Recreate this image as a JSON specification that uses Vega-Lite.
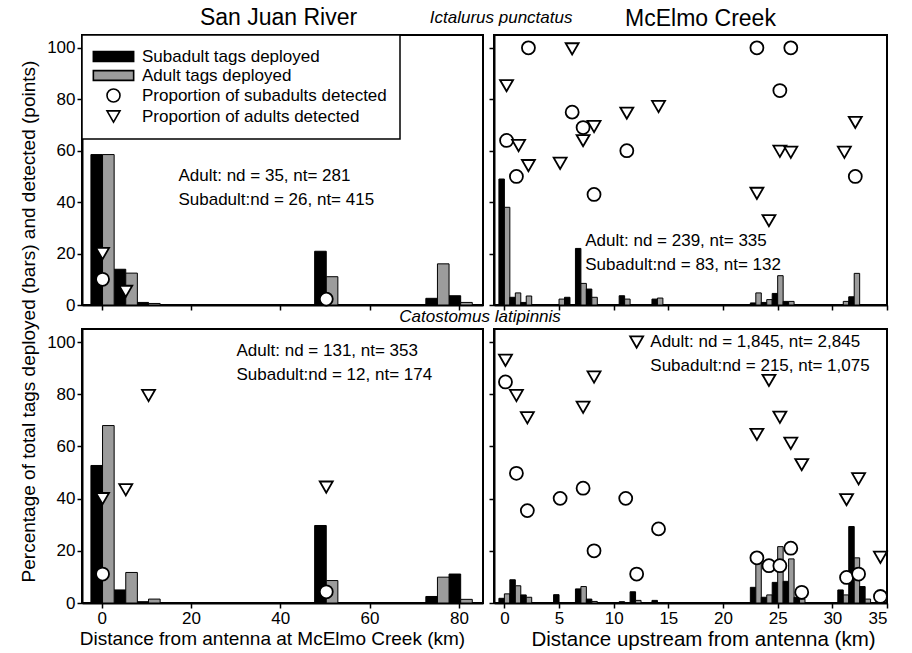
{
  "$schema": "https://vega.github.io/schema/vega-lite/v6.json",
  "padding": {"left": 18, "top": 6, "right": 5, "bottom": 0},
  "background": "white",
  "title": {"text": "Ictalurus punctatus", "orient": "top", "anchor": "middle", "fontSize": 17, "fontStyle": "italic", "fontWeight": "normal", "color": "black", "offset": -21, "dx": 46},
  "datasets": {
    "bars": [
      {"panel": "SJ-I", "series": "Subadult tags deployed", "start": -2.4, "end": 0.2, "pct": 58.5},
      {"panel": "SJ-I", "series": "Subadult tags deployed", "start": 2.8, "end": 5.4, "pct": 13.9},
      {"panel": "SJ-I", "series": "Subadult tags deployed", "start": 7.9, "end": 10.5, "pct": 1.0},
      {"panel": "SJ-I", "series": "Subadult tags deployed", "start": 47.7, "end": 50.3, "pct": 20.9},
      {"panel": "SJ-I", "series": "Subadult tags deployed", "start": 72.6, "end": 75.2, "pct": 2.6},
      {"panel": "SJ-I", "series": "Subadult tags deployed", "start": 77.8, "end": 80.4, "pct": 3.6},
      {"panel": "SJ-I", "series": "Adult tags deployed", "start": 0.2, "end": 2.8, "pct": 58.5},
      {"panel": "SJ-I", "series": "Adult tags deployed", "start": 5.4, "end": 8.0, "pct": 12.4},
      {"panel": "SJ-I", "series": "Adult tags deployed", "start": 10.5, "end": 13.1, "pct": 0.6},
      {"panel": "SJ-I", "series": "Adult tags deployed", "start": 50.3, "end": 52.9, "pct": 11.0},
      {"panel": "SJ-I", "series": "Adult tags deployed", "start": 75.2, "end": 77.8, "pct": 16.0},
      {"panel": "SJ-I", "series": "Adult tags deployed", "start": 80.4, "end": 83.0, "pct": 1.0},

      {"panel": "SJ-C", "series": "Subadult tags deployed", "start": -2.4, "end": 0.2, "pct": 52.7},
      {"panel": "SJ-C", "series": "Subadult tags deployed", "start": 2.8, "end": 5.4, "pct": 5.0},
      {"panel": "SJ-C", "series": "Subadult tags deployed", "start": 7.9, "end": 10.5, "pct": 0.5},
      {"panel": "SJ-C", "series": "Subadult tags deployed", "start": 47.7, "end": 50.3, "pct": 29.7},
      {"panel": "SJ-C", "series": "Subadult tags deployed", "start": 72.6, "end": 75.2, "pct": 2.5},
      {"panel": "SJ-C", "series": "Subadult tags deployed", "start": 77.8, "end": 80.4, "pct": 11.1},
      {"panel": "SJ-C", "series": "Adult tags deployed", "start": 0.2, "end": 2.8, "pct": 68.0},
      {"panel": "SJ-C", "series": "Adult tags deployed", "start": 5.4, "end": 8.0, "pct": 11.7},
      {"panel": "SJ-C", "series": "Adult tags deployed", "start": 10.5, "end": 13.1, "pct": 1.5},
      {"panel": "SJ-C", "series": "Adult tags deployed", "start": 50.3, "end": 52.9, "pct": 8.6},
      {"panel": "SJ-C", "series": "Adult tags deployed", "start": 75.2, "end": 77.8, "pct": 9.9},
      {"panel": "SJ-C", "series": "Adult tags deployed", "start": 80.4, "end": 83.0, "pct": 1.4},

      {"panel": "MC-I", "series": "Subadult tags deployed", "start": -0.5, "end": 0, "pct": 49},
      {"panel": "MC-I", "series": "Adult tags deployed", "start": 0, "end": 0.5, "pct": 38},
      {"panel": "MC-I", "series": "Subadult tags deployed", "start": 0.5, "end": 1, "pct": 3},
      {"panel": "MC-I", "series": "Adult tags deployed", "start": 1, "end": 1.5, "pct": 4.7},
      {"panel": "MC-I", "series": "Subadult tags deployed", "start": 1.5, "end": 2, "pct": 1},
      {"panel": "MC-I", "series": "Adult tags deployed", "start": 2, "end": 2.5, "pct": 3.5},
      {"panel": "MC-I", "series": "Adult tags deployed", "start": 5, "end": 5.5, "pct": 2.3},
      {"panel": "MC-I", "series": "Subadult tags deployed", "start": 5.5, "end": 6, "pct": 3},
      {"panel": "MC-I", "series": "Subadult tags deployed", "start": 6.5, "end": 7, "pct": 22},
      {"panel": "MC-I", "series": "Adult tags deployed", "start": 7, "end": 7.5, "pct": 8.4},
      {"panel": "MC-I", "series": "Subadult tags deployed", "start": 7.5, "end": 8, "pct": 6.2},
      {"panel": "MC-I", "series": "Adult tags deployed", "start": 8, "end": 8.5, "pct": 3},
      {"panel": "MC-I", "series": "Subadult tags deployed", "start": 10.5, "end": 11, "pct": 3.6},
      {"panel": "MC-I", "series": "Adult tags deployed", "start": 11, "end": 11.5, "pct": 2.3},
      {"panel": "MC-I", "series": "Subadult tags deployed", "start": 13.5, "end": 14, "pct": 2.3},
      {"panel": "MC-I", "series": "Adult tags deployed", "start": 14, "end": 14.5, "pct": 2.7},
      {"panel": "MC-I", "series": "Subadult tags deployed", "start": 22.5, "end": 23, "pct": 0.8},
      {"panel": "MC-I", "series": "Adult tags deployed", "start": 23, "end": 23.5, "pct": 4.7},
      {"panel": "MC-I", "series": "Subadult tags deployed", "start": 23.5, "end": 24, "pct": 1.0},
      {"panel": "MC-I", "series": "Adult tags deployed", "start": 24, "end": 24.5, "pct": 2.1},
      {"panel": "MC-I", "series": "Subadult tags deployed", "start": 24.5, "end": 25, "pct": 4.5},
      {"panel": "MC-I", "series": "Adult tags deployed", "start": 25, "end": 25.5, "pct": 11.4},
      {"panel": "MC-I", "series": "Subadult tags deployed", "start": 25.5, "end": 26, "pct": 1.4},
      {"panel": "MC-I", "series": "Adult tags deployed", "start": 26, "end": 26.5, "pct": 1.4},
      {"panel": "MC-I", "series": "Adult tags deployed", "start": 31, "end": 31.5, "pct": 1.4},
      {"panel": "MC-I", "series": "Subadult tags deployed", "start": 31.5, "end": 32, "pct": 3.2},
      {"panel": "MC-I", "series": "Adult tags deployed", "start": 32, "end": 32.5, "pct": 12.3},

      {"panel": "MC-C", "series": "Subadult tags deployed", "start": -0.5, "end": 0, "pct": 1.8},
      {"panel": "MC-C", "series": "Adult tags deployed", "start": 0, "end": 0.5, "pct": 3.5},
      {"panel": "MC-C", "series": "Subadult tags deployed", "start": 0.5, "end": 1, "pct": 8.9},
      {"panel": "MC-C", "series": "Adult tags deployed", "start": 1, "end": 1.5, "pct": 6.6},
      {"panel": "MC-C", "series": "Subadult tags deployed", "start": 1.5, "end": 2, "pct": 3.1},
      {"panel": "MC-C", "series": "Adult tags deployed", "start": 2, "end": 2.5, "pct": 2.2},
      {"panel": "MC-C", "series": "Subadult tags deployed", "start": 4.5, "end": 5, "pct": 3.2},
      {"panel": "MC-C", "series": "Subadult tags deployed", "start": 6.5, "end": 7, "pct": 5.4},
      {"panel": "MC-C", "series": "Adult tags deployed", "start": 7, "end": 7.5, "pct": 6.3},
      {"panel": "MC-C", "series": "Subadult tags deployed", "start": 7.5, "end": 8, "pct": 1.5},
      {"panel": "MC-C", "series": "Adult tags deployed", "start": 8, "end": 8.5, "pct": 0.6},
      {"panel": "MC-C", "series": "Subadult tags deployed", "start": 10.5, "end": 11, "pct": 0.5},
      {"panel": "MC-C", "series": "Subadult tags deployed", "start": 11.5, "end": 12, "pct": 4.3},
      {"panel": "MC-C", "series": "Adult tags deployed", "start": 12, "end": 12.5, "pct": 1.0},
      {"panel": "MC-C", "series": "Subadult tags deployed", "start": 13.5, "end": 14, "pct": 1.0},
      {"panel": "MC-C", "series": "Subadult tags deployed", "start": 22.5, "end": 23, "pct": 6.0},
      {"panel": "MC-C", "series": "Adult tags deployed", "start": 23, "end": 23.5, "pct": 17.0},
      {"panel": "MC-C", "series": "Subadult tags deployed", "start": 23.5, "end": 24, "pct": 2.2},
      {"panel": "MC-C", "series": "Adult tags deployed", "start": 24, "end": 24.5, "pct": 3.1},
      {"panel": "MC-C", "series": "Subadult tags deployed", "start": 24.5, "end": 25, "pct": 7.9},
      {"panel": "MC-C", "series": "Adult tags deployed", "start": 25, "end": 25.5, "pct": 21.6},
      {"panel": "MC-C", "series": "Subadult tags deployed", "start": 25.5, "end": 26, "pct": 8.3},
      {"panel": "MC-C", "series": "Adult tags deployed", "start": 26, "end": 26.5, "pct": 16.9},
      {"panel": "MC-C", "series": "Subadult tags deployed", "start": 26.5, "end": 27, "pct": 2.2},
      {"panel": "MC-C", "series": "Adult tags deployed", "start": 27, "end": 27.5, "pct": 1.5},
      {"panel": "MC-C", "series": "Subadult tags deployed", "start": 30.5, "end": 31, "pct": 5.0},
      {"panel": "MC-C", "series": "Adult tags deployed", "start": 31, "end": 31.5, "pct": 3.1},
      {"panel": "MC-C", "series": "Subadult tags deployed", "start": 31.5, "end": 32, "pct": 29.3},
      {"panel": "MC-C", "series": "Adult tags deployed", "start": 32, "end": 32.5, "pct": 17.3},
      {"panel": "MC-C", "series": "Subadult tags deployed", "start": 32.5, "end": 33, "pct": 6.3},
      {"panel": "MC-C", "series": "Adult tags deployed", "start": 33, "end": 33.5, "pct": 1.5}
    ],
    "points": [
      {"panel": "SJ-I", "series": "Proportion of adults detected", "km": 0.2, "pct": 20},
      {"panel": "SJ-I", "series": "Proportion of adults detected", "km": 5.4, "pct": 5.3},
      {"panel": "SJ-I", "series": "Proportion of subadults detected", "km": 0.2, "pct": 10},
      {"panel": "SJ-I", "series": "Proportion of subadults detected", "km": 50.3, "pct": 2.3},

      {"panel": "SJ-C", "series": "Proportion of adults detected", "km": 0.2, "pct": 40},
      {"panel": "SJ-C", "series": "Proportion of adults detected", "km": 5.4, "pct": 43.4},
      {"panel": "SJ-C", "series": "Proportion of adults detected", "km": 10.5, "pct": 79.5},
      {"panel": "SJ-C", "series": "Proportion of adults detected", "km": 50.3, "pct": 44.4},
      {"panel": "SJ-C", "series": "Proportion of subadults detected", "km": 0.2, "pct": 11.1},
      {"panel": "SJ-C", "series": "Proportion of subadults detected", "km": 50.3, "pct": 4.3},

      {"panel": "MC-I", "series": "Proportion of subadults detected", "km": 0.2, "pct": 64},
      {"panel": "MC-I", "series": "Proportion of subadults detected", "km": 1.1, "pct": 50},
      {"panel": "MC-I", "series": "Proportion of subadults detected", "km": 2.2, "pct": 100},
      {"panel": "MC-I", "series": "Proportion of subadults detected", "km": 6.2, "pct": 75},
      {"panel": "MC-I", "series": "Proportion of subadults detected", "km": 7.2, "pct": 69},
      {"panel": "MC-I", "series": "Proportion of subadults detected", "km": 8.2, "pct": 43},
      {"panel": "MC-I", "series": "Proportion of subadults detected", "km": 11.2, "pct": 60},
      {"panel": "MC-I", "series": "Proportion of subadults detected", "km": 23.1, "pct": 100},
      {"panel": "MC-I", "series": "Proportion of subadults detected", "km": 25.2, "pct": 83.4},
      {"panel": "MC-I", "series": "Proportion of subadults detected", "km": 26.2, "pct": 100},
      {"panel": "MC-I", "series": "Proportion of subadults detected", "km": 32.1, "pct": 50},
      {"panel": "MC-I", "series": "Proportion of adults detected", "km": 0.2, "pct": 85.3},
      {"panel": "MC-I", "series": "Proportion of adults detected", "km": 1.3, "pct": 62},
      {"panel": "MC-I", "series": "Proportion of adults detected", "km": 2.2, "pct": 54.2},
      {"panel": "MC-I", "series": "Proportion of adults detected", "km": 5.1, "pct": 55.1},
      {"panel": "MC-I", "series": "Proportion of adults detected", "km": 6.2, "pct": 99.6},
      {"panel": "MC-I", "series": "Proportion of adults detected", "km": 7.2, "pct": 63.9},
      {"panel": "MC-I", "series": "Proportion of adults detected", "km": 8.2, "pct": 69.4},
      {"panel": "MC-I", "series": "Proportion of adults detected", "km": 11.2, "pct": 74.6},
      {"panel": "MC-I", "series": "Proportion of adults detected", "km": 14.1, "pct": 77.2},
      {"panel": "MC-I", "series": "Proportion of adults detected", "km": 23.1, "pct": 43.4},
      {"panel": "MC-I", "series": "Proportion of adults detected", "km": 24.2, "pct": 32.8},
      {"panel": "MC-I", "series": "Proportion of adults detected", "km": 25.2, "pct": 59.8},
      {"panel": "MC-I", "series": "Proportion of adults detected", "km": 26.2, "pct": 59.4},
      {"panel": "MC-I", "series": "Proportion of adults detected", "km": 31.1, "pct": 59.4},
      {"panel": "MC-I", "series": "Proportion of adults detected", "km": 32.1, "pct": 71},

      {"panel": "MC-C", "series": "Proportion of adults detected", "km": 0.1, "pct": 93},
      {"panel": "MC-C", "series": "Proportion of adults detected", "km": 1.1, "pct": 79.5},
      {"panel": "MC-C", "series": "Proportion of adults detected", "km": 2.1, "pct": 71},
      {"panel": "MC-C", "series": "Proportion of adults detected", "km": 7.2, "pct": 75},
      {"panel": "MC-C", "series": "Proportion of adults detected", "km": 8.2, "pct": 86.6},
      {"panel": "MC-C", "series": "Proportion of adults detected", "km": 12.1, "pct": 100},
      {"panel": "MC-C", "series": "Proportion of adults detected", "km": 23.1, "pct": 64.6},
      {"panel": "MC-C", "series": "Proportion of adults detected", "km": 24.2, "pct": 85.3},
      {"panel": "MC-C", "series": "Proportion of adults detected", "km": 25.2, "pct": 71.2},
      {"panel": "MC-C", "series": "Proportion of adults detected", "km": 26.2, "pct": 61.2},
      {"panel": "MC-C", "series": "Proportion of adults detected", "km": 27.2, "pct": 53},
      {"panel": "MC-C", "series": "Proportion of adults detected", "km": 31.3, "pct": 39.6},
      {"panel": "MC-C", "series": "Proportion of adults detected", "km": 32.4, "pct": 47.6},
      {"panel": "MC-C", "series": "Proportion of adults detected", "km": 34.4, "pct": 17.5},
      {"panel": "MC-C", "series": "Proportion of subadults detected", "km": 0.1, "pct": 84.7},
      {"panel": "MC-C", "series": "Proportion of subadults detected", "km": 1.1, "pct": 49.7},
      {"panel": "MC-C", "series": "Proportion of subadults detected", "km": 2.1, "pct": 35.4},
      {"panel": "MC-C", "series": "Proportion of subadults detected", "km": 5.1, "pct": 40.1},
      {"panel": "MC-C", "series": "Proportion of subadults detected", "km": 7.2, "pct": 44},
      {"panel": "MC-C", "series": "Proportion of subadults detected", "km": 8.2, "pct": 20},
      {"panel": "MC-C", "series": "Proportion of subadults detected", "km": 11.1, "pct": 40.1},
      {"panel": "MC-C", "series": "Proportion of subadults detected", "km": 12.1, "pct": 11.1},
      {"panel": "MC-C", "series": "Proportion of subadults detected", "km": 14.1, "pct": 28.4},
      {"panel": "MC-C", "series": "Proportion of subadults detected", "km": 23.1, "pct": 17.3},
      {"panel": "MC-C", "series": "Proportion of subadults detected", "km": 24.2, "pct": 14.3},
      {"panel": "MC-C", "series": "Proportion of subadults detected", "km": 25.2, "pct": 14.3},
      {"panel": "MC-C", "series": "Proportion of subadults detected", "km": 26.2, "pct": 21},
      {"panel": "MC-C", "series": "Proportion of subadults detected", "km": 27.2, "pct": 4.1},
      {"panel": "MC-C", "series": "Proportion of subadults detected", "km": 31.3, "pct": 9.8},
      {"panel": "MC-C", "series": "Proportion of subadults detected", "km": 32.4, "pct": 11.1},
      {"panel": "MC-C", "series": "Proportion of subadults detected", "km": 34.4, "pct": 2.5}
    ]
  },
  "columns": 2,
  "spacing": {"row": 24, "column": 11},
  "bounds": "flush",
  "align": "each",
  "resolve": {
    "scale": {"x": "independent", "y": "independent", "fill": "independent", "shape": "independent"},
    "legend": {"fill": "independent", "shape": "independent"}
  },
  "concat": [
    {
      "width": 401, "height": 270,
      "title": {"text": "San Juan River", "fontSize": 23, "fontWeight": "normal", "offset": 4, "anchor": "middle", "dx": -4, "color": "black"},
      "layer": [
        {
          "data": {"name": "bars"},
          "transform": [{"filter": "datum.panel === 'SJ-I'"}],
          "mark": {"type": "bar", "stroke": "black", "strokeWidth": 1},
          "encoding": {
            "x": {"field": "start", "type": "quantitative", "scale": {"domain": [-4.4, 85.4], "nice": false, "zero": false}, "axis": {"values": [0, 20, 40, 60, 80], "labels": false, "title": null}},
            "x2": {"field": "end"},
            "y": {"field": "pct", "type": "quantitative", "scale": {"domain": [0, 105], "nice": false}, "axis": {"values": [0, 20, 40, 60, 80, 100], "title": null}},
            "y2": {"datum": 0},
            "fill": {"field": "series", "type": "nominal",
              "scale": {"domain": ["Subadult tags deployed", "Adult tags deployed", "Proportion of subadults detected", "Proportion of adults detected"], "range": ["black", "#9c9c9c", "white", "white"]},
              "legend": {"title": null, "orient": "top-left", "offset": 0, "padding": 13, "strokeColor": "black", "fillColor": "white", "labelFontSize": 17, "labelColor": "black", "symbolSize": 169, "rowPadding": 1, "symbolStrokeColor": "black", "symbolStrokeWidth": 1.6, "symbolOffset": 10, "labelOffset": 20, "labelLimit": 400, "encode": {"legend": {"update": {"strokeWidth": {"value": 1.5}}}}}}
          }
        },
        {
          "data": {"name": "points"},
          "transform": [{"filter": "datum.panel === 'SJ-I'"}],
          "mark": {"type": "point", "filled": true, "size": 169, "stroke": "black", "strokeWidth": 1.8, "opacity": 1},
          "encoding": {
            "x": {"field": "km", "type": "quantitative"},
            "y": {"field": "pct", "type": "quantitative"},
            "fill": {"field": "series", "type": "nominal",
              "scale": {"domain": ["Subadult tags deployed", "Adult tags deployed", "Proportion of subadults detected", "Proportion of adults detected"], "range": ["black", "#9c9c9c", "white", "white"]},
              "legend": {"title": null, "orient": "top-left", "offset": 0, "padding": 13, "strokeColor": "black", "fillColor": "white", "labelFontSize": 17, "labelColor": "black", "symbolSize": 169, "rowPadding": 1, "symbolStrokeColor": "black", "symbolStrokeWidth": 1.6, "symbolOffset": 10, "labelOffset": 20, "labelLimit": 400, "encode": {"legend": {"update": {"strokeWidth": {"value": 1.5}}}}}},
            "shape": {"field": "series", "type": "nominal",
              "scale": {"domain": ["Subadult tags deployed", "Adult tags deployed", "Proportion of subadults detected", "Proportion of adults detected"], "range": ["M-3.1,-0.75H3.1V0.75H-3.1Z", "M-3.1,-0.75H3.1V0.75H-3.1Z", "circle", "triangle-down"]},
              "legend": {"title": null, "orient": "top-left", "offset": 0, "padding": 13, "strokeColor": "black", "fillColor": "white", "labelFontSize": 17, "labelColor": "black", "symbolSize": 169, "rowPadding": 1, "symbolStrokeColor": "black", "symbolStrokeWidth": 1.6, "symbolOffset": 10, "labelOffset": 20, "labelLimit": 400, "encode": {"legend": {"update": {"strokeWidth": {"value": 1.5}}}}}}
          }
        },
        {
          "data": {"values": [{}]},
          "mark": {"type": "text", "text": ["Adult: nd = 35, nt= 281", "Subadult:nd = 26, nt= 415"], "align": "left", "baseline": "middle", "fontSize": 17, "lineHeight": 24, "color": "black"},
          "encoding": {"x": {"datum": 17.2}, "y": {"datum": 50.3}}
        }
      ]
    },
    {
      "width": 393, "height": 270,
      "title": {"text": "McElmo Creek", "fontSize": 23, "fontWeight": "normal", "offset": 4, "anchor": "middle", "dx": 10, "color": "black"},
      "layer": [
        {
          "data": {"name": "bars"},
          "transform": [{"filter": "datum.panel === 'MC-I'"}],
          "mark": {"type": "bar", "stroke": "black", "strokeWidth": 1},
          "encoding": {
            "x": {"field": "start", "type": "quantitative", "scale": {"domain": [-0.95, 35], "nice": false, "zero": false}, "axis": {"values": [0, 5, 10, 15, 20, 25, 30, 35], "labels": false, "title": null}},
            "x2": {"field": "end"},
            "y": {"field": "pct", "type": "quantitative", "scale": {"domain": [0, 105], "nice": false}, "axis": {"values": [0, 20, 40, 60, 80, 100], "labels": false, "title": null}},
            "y2": {"datum": 0},
            "fill": {"field": "series", "type": "nominal",
              "scale": {"domain": ["Subadult tags deployed", "Adult tags deployed", "Proportion of subadults detected", "Proportion of adults detected"], "range": ["black", "#9c9c9c", "white", "white"]},
              "legend": null}
          }
        },
        {
          "data": {"name": "points"},
          "transform": [{"filter": "datum.panel === 'MC-I'"}],
          "mark": {"type": "point", "filled": true, "size": 169, "stroke": "black", "strokeWidth": 1.8, "opacity": 1},
          "encoding": {
            "x": {"field": "km", "type": "quantitative"},
            "y": {"field": "pct", "type": "quantitative"},
            "fill": {"field": "series", "type": "nominal",
              "scale": {"domain": ["Subadult tags deployed", "Adult tags deployed", "Proportion of subadults detected", "Proportion of adults detected"], "range": ["black", "#9c9c9c", "white", "white"]},
              "legend": null},
            "shape": {"field": "series", "type": "nominal",
              "scale": {"domain": ["Subadult tags deployed", "Adult tags deployed", "Proportion of subadults detected", "Proportion of adults detected"], "range": ["square", "square", "circle", "triangle-down"]},
              "legend": null}
          }
        },
        {
          "data": {"values": [{}]},
          "mark": {"type": "text", "text": ["Adult: nd = 239, nt= 335", "Subadult:nd = 83, nt= 132"], "align": "left", "baseline": "middle", "fontSize": 17, "lineHeight": 24, "color": "black"},
          "encoding": {"x": {"datum": 7.4}, "y": {"datum": 25.0}}
        }
      ]
    },
    {
      "width": 401, "height": 274,
      "layer": [
        {
          "data": {"name": "bars"},
          "transform": [{"filter": "datum.panel === 'SJ-C'"}],
          "mark": {"type": "bar", "stroke": "black", "strokeWidth": 1},
          "encoding": {
            "x": {"field": "start", "type": "quantitative", "scale": {"domain": [-4.4, 85.4], "nice": false, "zero": false}, "axis": {"values": [0, 20, 40, 60, 80], "title": "Distance from antenna at McElmo Creek (km)", "titleX": 190}},
            "x2": {"field": "end"},
            "y": {"field": "pct", "type": "quantitative", "scale": {"domain": [0, 105], "nice": false}, "axis": {"values": [0, 20, 40, 60, 80, 100], "title": "Percentage of total tags deployed (bars) and detected (points)", "titleY": -8, "titlePadding": 8}},
            "y2": {"datum": 0},
            "fill": {"field": "series", "type": "nominal",
              "scale": {"domain": ["Subadult tags deployed", "Adult tags deployed", "Proportion of subadults detected", "Proportion of adults detected"], "range": ["black", "#9c9c9c", "white", "white"]},
              "legend": null}
          }
        },
        {
          "data": {"name": "points"},
          "transform": [{"filter": "datum.panel === 'SJ-C'"}],
          "mark": {"type": "point", "filled": true, "size": 169, "stroke": "black", "strokeWidth": 1.8, "opacity": 1},
          "encoding": {
            "x": {"field": "km", "type": "quantitative"},
            "y": {"field": "pct", "type": "quantitative"},
            "fill": {"field": "series", "type": "nominal",
              "scale": {"domain": ["Subadult tags deployed", "Adult tags deployed", "Proportion of subadults detected", "Proportion of adults detected"], "range": ["black", "#9c9c9c", "white", "white"]},
              "legend": null},
            "shape": {"field": "series", "type": "nominal",
              "scale": {"domain": ["Subadult tags deployed", "Adult tags deployed", "Proportion of subadults detected", "Proportion of adults detected"], "range": ["square", "square", "circle", "triangle-down"]},
              "legend": null}
          }
        },
        {
          "data": {"values": [{}]},
          "mark": {"type": "text", "text": ["Adult: nd = 131, nt= 353", "Subadult:nd = 12, nt= 174"], "align": "left", "baseline": "middle", "fontSize": 17, "lineHeight": 24, "color": "black"},
          "encoding": {"x": {"datum": 30.2}, "y": {"datum": 96.5}}
        }
      ]
    },
    {
      "width": 393, "height": 274,
      "title": {"text": "Catostomus latipinnis", "fontSize": 17, "fontStyle": "italic", "fontWeight": "normal", "offset": 3, "anchor": "start", "dx": -89, "color": "black"},
      "layer": [
        {
          "data": {"name": "bars"},
          "transform": [{"filter": "datum.panel === 'MC-C'"}],
          "mark": {"type": "bar", "stroke": "black", "strokeWidth": 1},
          "encoding": {
            "x": {"field": "start", "type": "quantitative", "scale": {"domain": [-0.95, 35], "nice": false, "zero": false}, "axis": {"values": [0, 5, 10, 15, 20, 25, 30, 35], "title": "Distance upstream from antenna (km)", "titleX": 209, "titleFontSize": 20.5}},
            "x2": {"field": "end"},
            "y": {"field": "pct", "type": "quantitative", "scale": {"domain": [0, 105], "nice": false}, "axis": {"values": [0, 20, 40, 60, 80, 100], "labels": false, "title": null}},
            "y2": {"datum": 0},
            "fill": {"field": "series", "type": "nominal",
              "scale": {"domain": ["Subadult tags deployed", "Adult tags deployed", "Proportion of subadults detected", "Proportion of adults detected"], "range": ["black", "#9c9c9c", "white", "white"]},
              "legend": null}
          }
        },
        {
          "data": {"name": "points"},
          "transform": [{"filter": "datum.panel === 'MC-C'"}],
          "mark": {"type": "point", "filled": true, "size": 169, "stroke": "black", "strokeWidth": 1.8, "opacity": 1},
          "encoding": {
            "x": {"field": "km", "type": "quantitative"},
            "y": {"field": "pct", "type": "quantitative"},
            "fill": {"field": "series", "type": "nominal",
              "scale": {"domain": ["Subadult tags deployed", "Adult tags deployed", "Proportion of subadults detected", "Proportion of adults detected"], "range": ["black", "#9c9c9c", "white", "white"]},
              "legend": null},
            "shape": {"field": "series", "type": "nominal",
              "scale": {"domain": ["Subadult tags deployed", "Adult tags deployed", "Proportion of subadults detected", "Proportion of adults detected"], "range": ["square", "square", "circle", "triangle-down"]},
              "legend": null}
          }
        },
        {
          "data": {"values": [{}]},
          "mark": {"type": "text", "text": ["Adult: nd = 1,845, nt= 2,845", "Subadult:nd = 215, nt= 1,075"], "align": "left", "baseline": "middle", "fontSize": 17, "lineHeight": 24, "color": "black"},
          "encoding": {"x": {"datum": 13.35}, "y": {"datum": 100.0}}
        }
      ]
    }
  ],
  "config": {
    "font": "Liberation Sans",
    "view": {"stroke": "black", "strokeWidth": 2},
    "axis": {"grid": false, "domainColor": "black", "domainWidth": 2, "tickColor": "black", "tickSize": 5, "tickWidth": 1.5, "labelColor": "black", "labelFontSize": 17, "labelPadding": 2, "titleFontSize": 19, "titleFontWeight": "normal", "titleColor": "black", "titlePadding": 3},
    "title": {"color": "black"}
  }
}
